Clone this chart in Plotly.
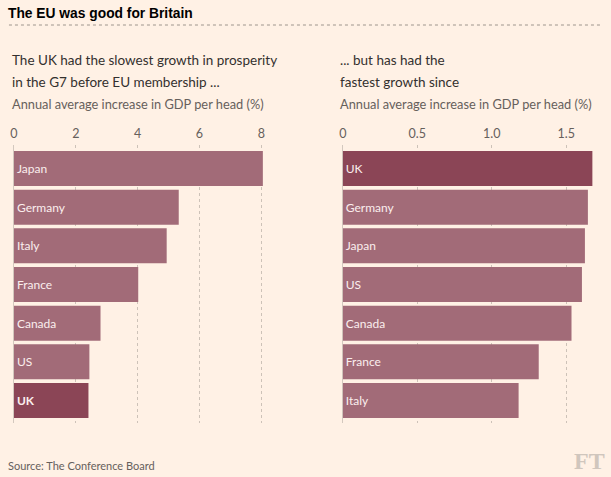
import plotly.graph_objects as go

# Data
left_countries = ["Japan", "Germany", "Italy", "France", "Canada", "US", "UK"]
left_values = [8.05, 5.33, 4.94, 4.02, 2.8, 2.44, 2.41]
right_countries = ["UK", "Germany", "Japan", "US", "Canada", "France", "Italy"]
right_values = [1.675, 1.645, 1.625, 1.605, 1.535, 1.315, 1.18]
left_ticks = [0, 2, 4, 6, 8]
right_ticks = [0, 0.5, 1.0, 1.5]
right_ticklabels = ["0", "0.5", "1.0", "1.5"]

BG = "#fff1e5"
BAR = "#a26b78"
HI = "#8b4556"
GRID = "#cdc2b8"
TXT = "#33302e"
SUB = "#66605c"
FONT = "Lato"
W, H = 611, 477
OFF = -3  # horizontal compensation

def px(x):
    return (x + OFF) / W

def py(y):
    return 1 - y / H

fig = go.Figure()

fig.add_trace(go.Bar(
    x=left_values, y=left_countries, orientation="h",
    marker=dict(color=[HI if c == "UK" else BAR for c in left_countries], line=dict(width=0)),
    text=["<b>UK</b>" if c == "UK" else c for c in left_countries],
    textposition="inside", insidetextanchor="start",
    textfont=dict(color="#fbeeee", size=12, family=FONT),
    xaxis="x", yaxis="y", hoverinfo="skip", cliponaxis=False,
))
fig.add_trace(go.Bar(
    x=right_values, y=right_countries, orientation="h",
    marker=dict(color=[HI if c == "UK" else BAR for c in right_countries], line=dict(width=0)),
    text=right_countries,
    textposition="inside", insidetextanchor="start",
    textfont=dict(color="#fbeeee", size=12, family=FONT),
    xaxis="x2", yaxis="y2", hoverinfo="skip", cliponaxis=False,
))

ytop, ybot = 145, 423
yr = [6.582, -0.608]

axis_common = dict(side="top", showgrid=True, gridcolor=GRID, griddash="dot", gridwidth=1,
                   zeroline=True, zerolinecolor="#d3c8be", zerolinewidth=1,
                   showline=False, ticks="", tickfont=dict(size=12.5, color=SUB, family=FONT),
                   ticklabelstandoff=4, fixedrange=True)

fig.update_layout(
    width=W, height=H,
    margin=dict(l=0, r=0, t=0, b=0),
    paper_bgcolor=BG, plot_bgcolor=BG,
    showlegend=False,
    bargap=0.095,
    font=dict(family=FONT, color=TXT),
    xaxis=dict(domain=[px(13), px(13 + 31.125 * 8.5)], range=[0, 8.5],
               tickvals=left_ticks, ticktext=[str(t) for t in left_ticks],
               anchor="y", **axis_common),
    yaxis=dict(domain=[py(ybot), py(ytop)], range=yr, type="category",
               categoryorder="array", categoryarray=left_countries,
               showticklabels=False, showgrid=False, zeroline=False, anchor="x"),
    xaxis2=dict(domain=[px(344), px(344 + 150 * 1.75)], range=[0, 1.75],
                tickvals=right_ticks, ticktext=right_ticklabels,
                anchor="y2", **axis_common),
    yaxis2=dict(domain=[py(ybot), py(ytop)], range=yr, type="category",
                categoryorder="array", categoryarray=right_countries,
                showticklabels=False, showgrid=False, zeroline=False, anchor="x2"),
)

ann = []
ann.append(dict(text="<b>The EU was good for Britain</b>", x=px(5), y=py(13),
                font=dict(family="Liberation Sans", size=13.8, color="#000000")))
ann.append(dict(text="The UK had the slowest growth in prosperity",
                x=px(9), y=py(60), font=dict(size=13.5, color=TXT)))
ann.append(dict(text="in the G7 before EU membership ...",
                x=px(9), y=py(82), font=dict(size=13.5, color=TXT)))
ann.append(dict(text="... but has had the",
                x=px(339), y=py(60), font=dict(size=13.5, color=TXT)))
ann.append(dict(text="fastest growth since",
                x=px(339), y=py(82), font=dict(size=13.5, color=TXT)))
ann.append(dict(text="Annual average increase in GDP per head (%)", x=px(9), y=py(104),
                font=dict(size=12.8, color=SUB)))
ann.append(dict(text="Annual average increase in GDP per head (%)", x=px(339), y=py(104),
                font=dict(size=12.8, color=SUB)))
ann.append(dict(text="Source: The Conference Board", x=px(5), y=py(465),
                font=dict(size=11, color=SUB)))
ann.append(dict(text="<b>FT</b>", x=px(610), y=py(461), xanchor="right",
                font=dict(family="Liberation Serif", size=24, color="#d0c6bd")))
for a in ann:
    a.setdefault("xanchor", "left")
    a.update(xref="paper", yref="paper", yanchor="middle", showarrow=False)
fig.update_layout(annotations=ann)

fig.add_shape(type="line", xref="paper", yref="paper", x0=px(8), x1=px(603),
              y0=py(25), y1=py(25), line=dict(color="#9e958d", width=1, dash="dot"))

fig.write_html("out.html", config={"displayModeBar": False},
               post_script="document.body.style.margin='0';document.body.style.background='#fff1e5';")
